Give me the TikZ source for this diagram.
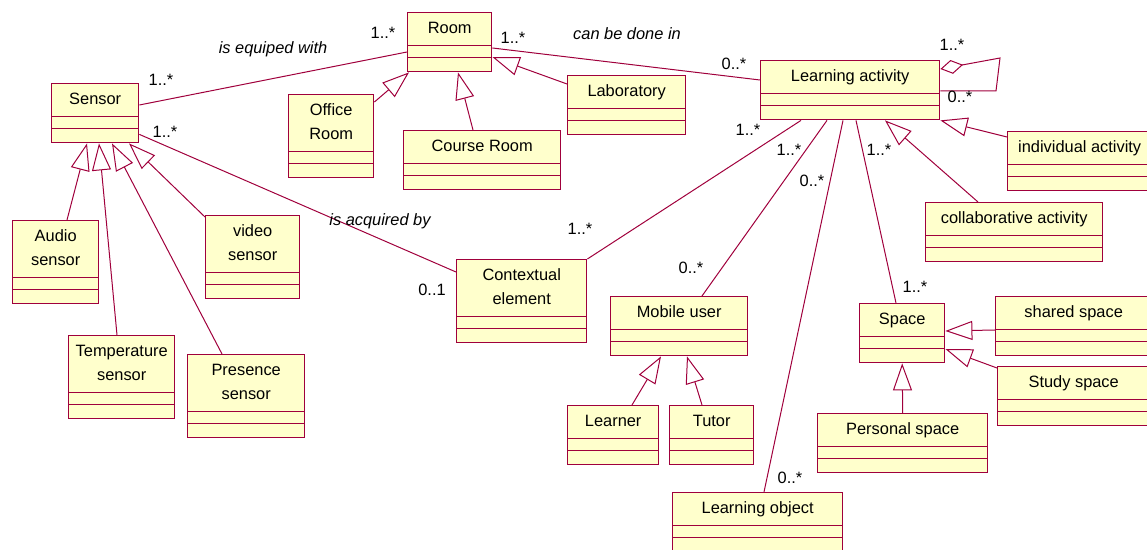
\documentclass[tikz,border=0pt]{standalone}
\usepackage{fontspec}
\setmainfont{Liberation Sans}
\usetikzlibrary{arrows.meta}
\definecolor{umlred}{RGB}{160,0,60}
\definecolor{umlfill}{RGB}{255,255,204}
\newcommand{\clsname}[2][16.5pt]{\vbox to \dimexpr#1+13pt\relax{\vbox to #1{\vfil\hbox{\begin{tabular}{@{}c@{}}#2\end{tabular}}\vfil}\vfil}}

\begin{document}
\begin{tikzpicture}[x=0.5pt, y=-0.5pt,
    cls/.style={draw=umlred, fill=umlfill, line width=0.7pt, inner sep=0pt, anchor=north west,
        font=\fontsize{8.2}{12}\selectfont,
        path picture={
            \draw[umlred, line width=0.7pt] ([yshift=13pt]path picture bounding box.south west) -- ([yshift=13pt]path picture bounding box.south east);
            \draw[umlred, line width=0.7pt] ([yshift=7pt]path picture bounding box.south west) -- ([yshift=7pt]path picture bounding box.south east);
        }},
    mult/.style={font=\fontsize{8.2}{12}\selectfont, inner sep=0pt},
    role/.style={mult, font=\fontsize{8.2}{12}\selectfont\itshape},
    assoc/.style={draw=umlred, line width=0.5pt},
    gen/.style={assoc, -{Triangle[open, length=13.5pt, width=9.5pt]}},
    agg/.style={assoc, {Diamond[open, length=11.5pt, width=7pt]}-}]
    \useasboundingbox (0,0) rectangle (1147,550);

    \node[cls, minimum width=43.5pt] (sensor) at (51,83) {\clsname{Sensor}};
    \node[cls, minimum width=42pt] (room) at (407,12) {\clsname{Room}};
    \node[cls, minimum width=42.5pt] (office) at (288,94) {\clsname[28.5pt]{Office\\Room}};
    \node[cls, minimum width=78.5pt] (course) at (403,130) {\clsname{Course Room}};
    \node[cls, minimum width=59pt] (lab) at (567,75) {\clsname{Laboratory}};
    \node[cls, minimum width=89.5pt] (act) at (760,60) {\clsname{Learning activity}};
    \node[cls, minimum width=72pt] (indiv) at (1007,131) {\clsname{individual activity}};
    \node[cls, minimum width=88.5pt] (collab) at (925,202) {\clsname{collaborative activity}};
    \node[cls, minimum width=43pt] (audio) at (12,220) {\clsname[28.5pt]{Audio\\sensor}};
    \node[cls, minimum width=47pt] (video) at (205,215) {\clsname[28.5pt]{video\\sensor}};
    \node[cls, minimum width=53pt] (temp) at (68,335) {\clsname[28.5pt]{Temperature\\sensor}};
    \node[cls, minimum width=58.5pt] (presence) at (187,354) {\clsname[28.5pt]{Presence\\sensor}};
    \node[cls, minimum width=65pt] (context) at (456,259) {\clsname[28.5pt]{Contextual\\element}};
    \node[cls, minimum width=68.5pt] (mobile) at (610,296) {\clsname{Mobile user}};
    \node[cls, minimum width=45.5pt] (learner) at (567,405) {\clsname{Learner}};
    \node[cls, minimum width=42pt] (tutor) at (669,405) {\clsname{Tutor}};
    \node[cls, minimum width=85pt] (lobj) at (672,492) {\clsname{Learning object}};
    \node[cls, minimum width=42.5pt] (space) at (859,303) {\clsname{Space}};
    \node[cls, minimum width=78pt] (shared) at (995,296) {\clsname{shared space}};
    \node[cls, minimum width=76pt] (study) at (997,366) {\clsname{Study space}};
    \node[cls, minimum width=85pt] (personal) at (817,413) {\clsname{Personal space}};

    \coordinate (loopa) at (1000,58);
    \coordinate (loopb) at (996,91);

    \draw[assoc] ([yshift=-11pt]sensor.north east) -- ([yshift=-20pt]room.north west);
    \draw[assoc] ([yshift=4.5pt]sensor.south east) -- ([yshift=-6.5pt]context.north west);
    \draw[assoc] ([yshift=-18pt]room.north east) -- ([yshift=-10pt]act.north west);
    \draw[gen] ([yshift=-4pt]office.north east) -- ([xshift=1pt]room.south west);
    \draw[gen] ([xshift=35pt]course.north west) -- ([xshift=25.5pt]room.south west);
    \draw[gen] ([yshift=-4.5pt]lab.north west) -- ([yshift=-22.5pt]room.north east);
    \draw[agg] ([yshift=-4.5pt]act.north east) -- (loopa) -- (loopb) -- ([yshift=-15.5pt]act.north east);
    \draw[gen] ([yshift=-3pt]indiv.north west) -- (act.south east);
    \draw[gen] ([xshift=26.5pt]collab.north west) -- ([xshift=62.5pt]act.south west);
    \draw[assoc] ([xshift=20.5pt]act.south west) -- (context.north east);
    \draw[assoc] ([xshift=33.5pt]act.south west) -- ([xshift=46pt]mobile.north west);
    \draw[assoc] ([xshift=41.5pt]act.south west) -- ([xshift=46pt]lobj.north west);
    \draw[assoc] ([xshift=48pt]act.south west) -- ([xshift=18.5pt]space.north west);
    \draw[gen] ([xshift=27.5pt]audio.north west) -- ([xshift=18pt]sensor.south west);
    \draw[gen] ([xshift=24.5pt]temp.north west) -- ([xshift=24pt]sensor.south west);
    \draw[gen] ([xshift=17.5pt]presence.north west) -- ([xshift=30.5pt]sensor.south west);
    \draw[gen] ([yshift=-1pt]video.north west) -- ([xshift=39pt]sensor.south west);
    \draw[gen] ([xshift=32.5pt]learner.north west) -- ([xshift=25.5pt]mobile.south west);
    \draw[gen] ([xshift=16.5pt]tutor.north west) -- ([xshift=38.5pt]mobile.south west);
    \draw[gen] ([yshift=-17pt]shared.north west) -- ([yshift=-14pt]space.north east);
    \draw[gen] ([yshift=-1pt]study.north west) -- ([yshift=-23pt]space.north east);
    \draw[gen] (personal.north) -- (space.south);

    \node[role] (equip) at (273,49) {is equiped with};
    \node[role] (acquired) at (380,221) {is acquired by};
    \node[role] (donein) at (627,34) {can be done in};
    \node[mult] (msensora) at (161,80) {1..*};
    \node[mult] (mroom) at (383,33) {1..*};
    \node[mult] (msensorb) at (165,132) {1..*};
    \node[mult] (mcontexta) at (432,290) {0..1};
    \node[mult] (mroomb) at (513,38) {1..*};
    \node[mult] (mact) at (734,64) {0..*};
    \node[mult] (mloopa) at (952,45) {1..*};
    \node[mult] (mloopb) at (960,97) {0..*};
    \node[mult] (mactb) at (748,130) {1..*};
    \node[mult] (mactc) at (789,150) {1..*};
    \node[mult] (mactd) at (812,181) {0..*};
    \node[mult] (macte) at (879,150) {1..*};
    \node[mult] (mcontextb) at (580,229) {1..*};
    \node[mult] (mmobile) at (691,268) {0..*};
    \node[mult] (mlobj) at (790,478) {0..*};
    \node[mult] (mspace) at (915,287) {1..*};
\end{tikzpicture}
\end{document}
